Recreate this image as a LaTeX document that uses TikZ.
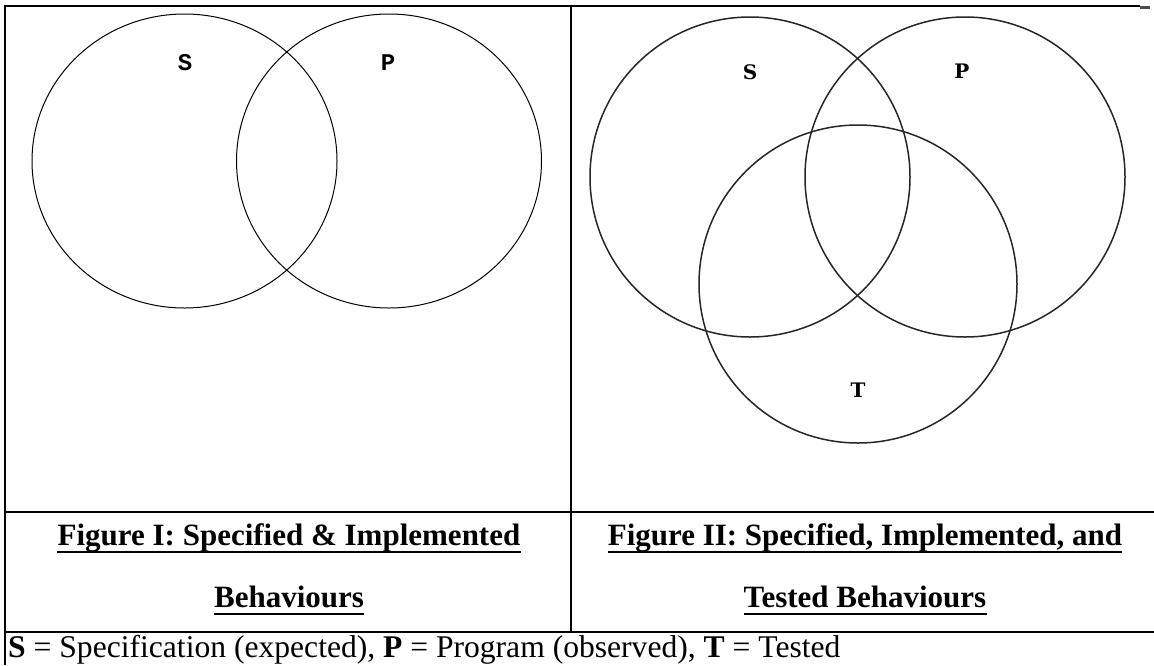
\documentclass[tikz,border=0pt]{standalone}
\usepackage{fontspec}
\setmainfont{Liberation Serif}
\newfontfamily\setmono{Liberation Mono}
\newfontfamily\setwide{DejaVu Serif}
\usepackage{tikz}

\begin{document}
\begin{tikzpicture}[
        x=1pt, y=-1pt, % pixel grid, y downwards
        frame/.style={draw=black, line width=2pt},
        thinframe/.style={draw=black, line width=1.3pt},
        venn/.style={draw=black, line width=1pt},
        vennbold/.style={draw=black!85, line width=1.5pt},
        monolabel/.style={font=\setmono\bfseries\fontsize{24}{24}\selectfont, inner sep=0pt},
        widelabel/.style={font=\setwide\bfseries\fontsize{20}{20}\selectfont, inner sep=0pt},
        caption/.style={font=\bfseries\fontsize{31}{37}\selectfont, inner sep=0pt, anchor=base},
        uline/.style={draw=black, line width=2.2pt},
        legend/.style={font=\fontsize{31.6}{37}\selectfont, inner sep=0pt, anchor=base west}
    ]
    \useasboundingbox (0,0) rectangle (1154,665);

    % ==========================================
    % 1. Table frame
    % ==========================================
    \draw[frame] (5,665) -- (5,6) -- (585,6);
    \draw[thinframe] (585,6) -- (1140,6);
    \draw[black!70, line width=3pt] (1140,7) -- (1150,7);
    \draw[frame] (571,6) -- (571,632);
    \draw[frame] (5,512) -- (1154,512);
    \draw[frame] (5,632) -- (1154,632);

    % ==========================================
    % 2. Figure I (S and P)
    % ==========================================
    \draw[venn] (184.5,161) ellipse [x radius=152.5pt, y radius=147pt];
    \draw[venn] (389,161) ellipse [x radius=152.5pt, y radius=147pt];
    \node[monolabel] (s1) at (185,63) {S};
    \node[monolabel] (p1) at (388,63) {P};

    % ==========================================
    % 3. Figure II (S, P and T)
    % ==========================================
    \draw[vennbold] (750,177) circle [radius=160pt];
    \draw[vennbold] (965,177) circle [radius=160pt];
    \draw[vennbold] (858,284) circle [radius=159pt];
    \node[widelabel] (s2) at (750,72) {S};
    \node[widelabel] (p2) at (962,71) {P};
    \node[widelabel] (t2) at (858,390) {T};

    % ==========================================
    % 4. Captions and legend
    % ==========================================
    \node[caption] (cap1a) at (289,545) {Figure I: Specified \& Implemented};
    \node[caption] (cap1b) at (289,607) {Behaviours};
    \node[caption] (cap2a) at (865,545) {Figure II: Specified, Implemented, and};
    \node[caption] (cap2b) at (865,607) {Tested Behaviours};
    \foreach \c in {cap1a, cap1b, cap2a, cap2b} {
        \path[uline] ([yshift=-7pt]\c.base west) -- ([yshift=-7pt]\c.base east);
    }

    \node[legend] (key) at (8,657) {\textbf{S} = Specification (expected), \textbf{P} = Program (observed), \textbf{T} = Tested};

\end{tikzpicture}
\end{document}
